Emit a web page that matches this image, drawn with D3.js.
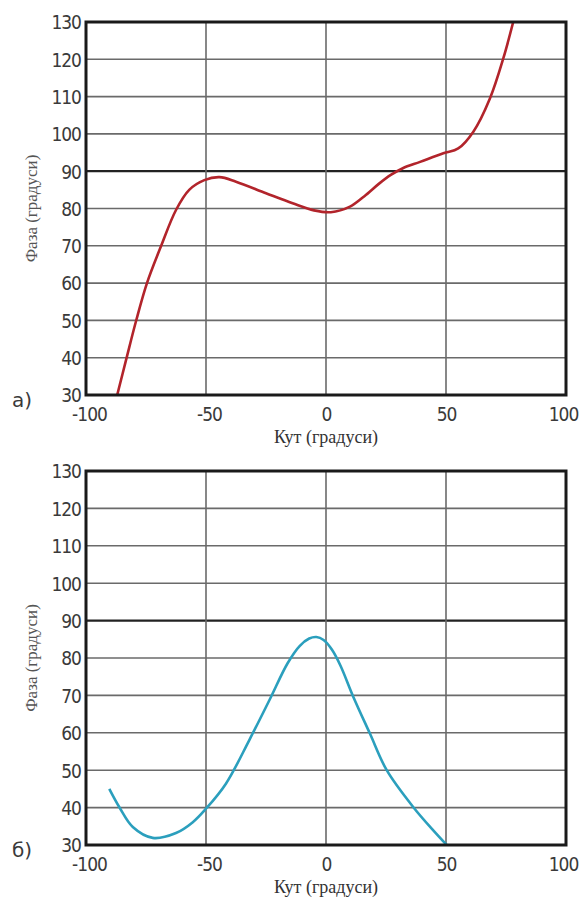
<!DOCTYPE html>
<html>
<head>
<meta charset="utf-8">
<script src="https://cdn.jsdelivr.net/npm/d3@7"></script>
<style>
  body { margin: 0; background: #fff; }
</style>
</head>
<body>
<div id="chart"></div>
<script>
/* Phase vs angle, two panels (а, б) */

const xTicks = [-100, -50, 0, 50, 100];
const yTicks = [30, 40, 50, 60, 70, 80, 90, 100, 110, 120, 130];

// panel а) - red curve
const anglesA = [-87, -83.3, -79.2, -74.6, -68.8, -62.5, -57, -50.7, -44.4, -37.5, -25, -13.9, -5, 2, 10, 16, 22, 27, 32, 39.2, 48.9, 55.1, 61.4, 68.3, 73.9, 78];
const phaseA  = [30, 39.4, 49.7, 60, 69.8, 79.6, 85, 87.6, 88.4, 87.2, 84.1, 81.4, 79.5, 79, 80.5, 83.3, 86.6, 89, 90.8, 92.5, 94.8, 96.1, 100.6, 109.5, 120.3, 130];

// panel б) - cyan curve
const anglesB = [-90.3, -86.1, -80.5, -72.2, -62.5, -55.5, -50, -41.7, -32, -23.6, -16, -11, -7, -4, -1, 2.5, 6, 11.4, 18.3, 25.3, 36.4, 44.7, 50.3];
const phaseB  = [45, 40.1, 34.8, 31.9, 33.2, 36.1, 39.7, 46.4, 58, 68.7, 78.6, 83.2, 85.2, 85.6, 84.8, 82.2, 78, 69.6, 59.8, 50, 40.1, 33.9, 30];

const width = 584,
      height = 898;

const tickFont = "'DejaVu Sans', sans-serif";
const titleFont = "'Liberation Serif', 'DejaVu Serif', serif";

let svg = d3.select("#chart")
    .append("svg")
    .attr("width", width)
    .attr("height", height)
    .attr("viewBox", [0, 0, width, height]);

function drawPanel(angles, phase, color, label, top, bottom, id) {
    let x = d3.scaleLinear()
        .domain([-100, 100])
        .range([86, 566]);

    let y = d3.scaleLinear()
        .domain([30, 130])
        .range([bottom, top]);

    let g = svg.append("g");

    g.append("clipPath")
        .attr("id", id)
        .append("rect")
        .attr("x", x(-100))
        .attr("y", y(130))
        .attr("width", x(100) - x(-100))
        .attr("height", y(30) - y(130));

    // horizontal grid
    g.append("g")
        .selectAll("line")
        .data(yTicks.slice(1, -1))
        .join("line")
        .attr("x1", x(-100))
        .attr("x2", x(100))
        .attr("y1", d => y(d))
        .attr("y2", d => y(d))
        .attr("stroke", d => d === 90 ? "#222" : "#6a6a6a")
        .attr("stroke-width", d => d === 90 ? 2.2 : 1.6);

    // vertical grid
    g.append("g")
        .selectAll("line")
        .data(xTicks.slice(1, -1))
        .join("line")
        .attr("x1", d => x(d))
        .attr("x2", d => x(d))
        .attr("y1", y(130))
        .attr("y2", y(30))
        .attr("stroke", "#6a6a6a")
        .attr("stroke-width", 1.6);

    // the curve
    let line = d3.line()
        .x(d => x(d[0]))
        .y(d => y(d[1]))
        .curve(d3.curveCatmullRom.alpha(0.5));

    g.append("path")
        .datum(d3.zip(angles, phase))
        .attr("clip-path", `url(#${id})`)
        .attr("fill", "none")
        .attr("stroke", color)
        .attr("stroke-width", 2.6)
        .attr("stroke-linejoin", "round")
        .attr("d", line);

    // frame
    g.append("rect")
        .attr("x", x(-100))
        .attr("y", y(130))
        .attr("width", x(100) - x(-100))
        .attr("height", y(30) - y(130))
        .attr("fill", "none")
        .attr("stroke", "#1a1a1a")
        .attr("stroke-width", 3);

    // axes (tick text only, no domain lines)
    let yAxis = g.append("g")
        .attr("transform", `translate(${x(-100) - 5},0)`)
        .call(d3.axisLeft(y).tickValues(yTicks).tickSize(0).tickPadding(0));
    yAxis.select(".domain").remove();
    yAxis.selectAll("text")
        .attr("dy", "0.36em")
        .style("font-family", tickFont)
        .style("font-stretch", "condensed")
        .style("font-size", "19px")
        .style("letter-spacing", "-1px")
        .style("fill", "#3a3a3a");

    let xAxis = g.append("g")
        .attr("transform", `translate(0,${y(30) + 12})`)
        .call(d3.axisBottom(x).tickValues(xTicks).tickSize(0).tickPadding(0).tickFormat(d => String(d)));
    xAxis.select(".domain").remove();
    xAxis.selectAll("text")
        .attr("dy", "0.72em")
        .attr("dx", d => d < 0 ? 3 : (d === 100 ? -3 : 0))
        .style("font-family", tickFont)
        .style("font-stretch", "condensed")
        .style("font-size", "19px")
        .style("letter-spacing", "-1px")
        .style("fill", "#3a3a3a");

    // x-axis name
    g.append("text")
        .attr("x", x(0))
        .attr("y", y(30) + 48)
        .attr("text-anchor", "middle")
        .style("font-family", titleFont)
        .style("font-size", "18px")
        .style("fill", "#333")
        .text("Кут (градуси)");

    // y-axis name
    g.append("text")
        .attr("transform", `translate(37,${(y(30) + y(130)) / 2}) rotate(-90)`)
        .attr("text-anchor", "middle")
        .style("font-family", titleFont)
        .style("font-size", "17px")
        .style("fill", "#555")
        .text("Фаза (градуси)");

    // panel letter
    g.append("text")
        .attr("x", 12)
        .attr("y", y(30) + 12)
        .style("font-family", tickFont)
        .style("font-size", "20px")
        .style("fill", "#3a3a3a")
        .text(label);
}

drawPanel(anglesA, phaseA, "#b2242b", "а)", 22, 395, "clipA");
drawPanel(anglesB, phaseB, "#2b9fbd", "б)", 471, 845, "clipB");
</script>
</body>
</html>
